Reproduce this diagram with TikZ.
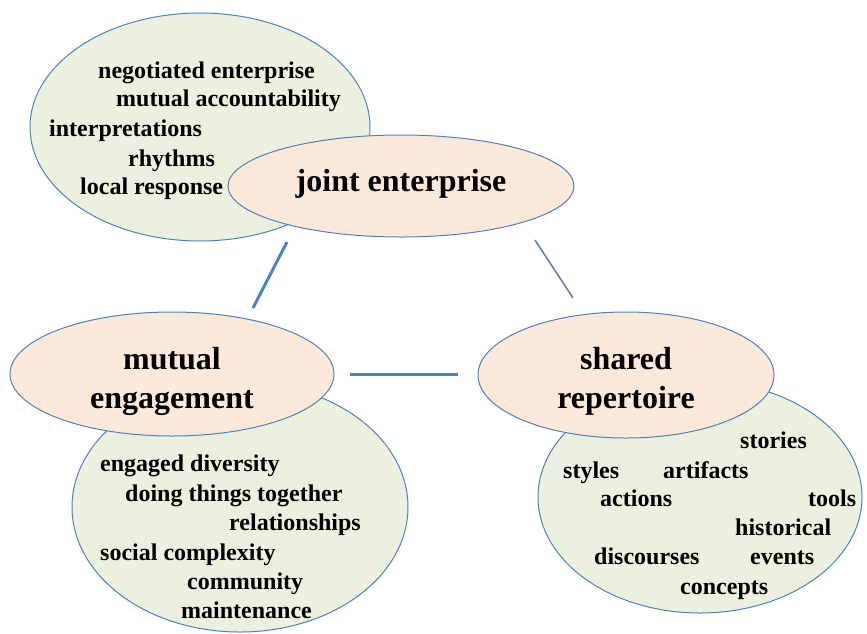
\documentclass[tikz,border=0pt]{standalone}
\usepackage{fontspec}
\setmainfont{Liberation Serif}
\usetikzlibrary{shapes.geometric}
\definecolor{greenfill}{HTML}{EBF1DE}
\definecolor{pinkfill}{HTML}{FDE9D9}
\definecolor{edgeblue}{HTML}{4F81BD}
\tikzset{
  greenell/.style={ellipse, draw=edgeblue, line width=1pt, fill=greenfill, inner sep=0pt},
  pinkell/.style={ellipse, draw=edgeblue, line width=1pt, fill=pinkfill, inner sep=0pt},
  bigtext/.style={inner sep=0pt, align=center, font=\fontsize{32}{39}\selectfont\bfseries},
  item/.style={anchor=base west, inner sep=0pt, font=\fontsize{24}{29}\selectfont\bfseries},
  link/.style={draw=edgeblue, line width=3pt},
  thinlink/.style={draw=edgeblue, line width=1.5pt}
}
\begin{document}
\begin{tikzpicture}[x=1pt,y=-1pt]
\useasboundingbox (0,0) rectangle (867,633);
% green ellipses
\node[greenell, minimum width=340pt, minimum height=228pt] (g1) at (200,127) {};
\node[greenell, minimum width=336pt, minimum height=250pt] (g2) at (240,507) {};
\node[greenell, minimum width=324pt, minimum height=232pt] (g3) at (700,497) {};
% pink ellipses
\node[pinkell, minimum width=346pt, minimum height=102pt] (je) at (401,186) {};
\node[pinkell, minimum width=324pt, minimum height=124pt] (me) at (172,374) {};
\node[pinkell, minimum width=296pt, minimum height=126pt] (sr) at (626,375) {};
\node[bigtext] (jel) at (401,184) {joint enterprise};
\node[bigtext] (mel) at (172,381) {mutual\\engagement};
\node[bigtext] (srl) at (626,381) {shared\\repertoire};
% items of joint enterprise
\node[item] (t1) at (98,78) {negotiated enterprise};
\node[item] (t2) at (116,106) {mutual accountability};
\node[item] (t3) at (49,136) {interpretations};
\node[item] (t4) at (128,166) {rhythms};
\node[item] (t5) at (80,194) {local response};
% items of mutual engagement
\node[item] (m1) at (100,471) {engaged diversity};
\node[item] (m2) at (125,501) {doing things together};
\node[item] (m3) at (229,530) {relationships};
\node[item] (m4) at (100,560) {social complexity};
\node[item] (m5) at (187,589) {community};
\node[item] (m6) at (181,618) {maintenance};
% items of shared repertoire
\node[item] (s1) at (740,448) {stories};
\node[item] (s2) at (563,478) {styles};
\node[item] (s3) at (663,478) {artifacts};
\node[item] (s4) at (600,506) {actions};
\node[item] (s5) at (808,506) {tools};
\node[item] (s6) at (735,535) {historical};
\node[item] (s7) at (594,564) {discourses};
\node[item] (s8) at (750,564) {events};
\node[item] (s9) at (680,594) {concepts};
% connectors
\coordinate (a1) at (287,242);
\coordinate (a2) at (253,308);
\coordinate (b1) at (535,240);
\coordinate (b2) at (573,298);
\coordinate (c1) at (350,374);
\coordinate (c2) at (458,374);
\draw[link] (a1) -- (a2);
\draw[thinlink] (b1) -- (b2);
\draw[link] (c1) -- (c2);
\end{tikzpicture}
\end{document}
